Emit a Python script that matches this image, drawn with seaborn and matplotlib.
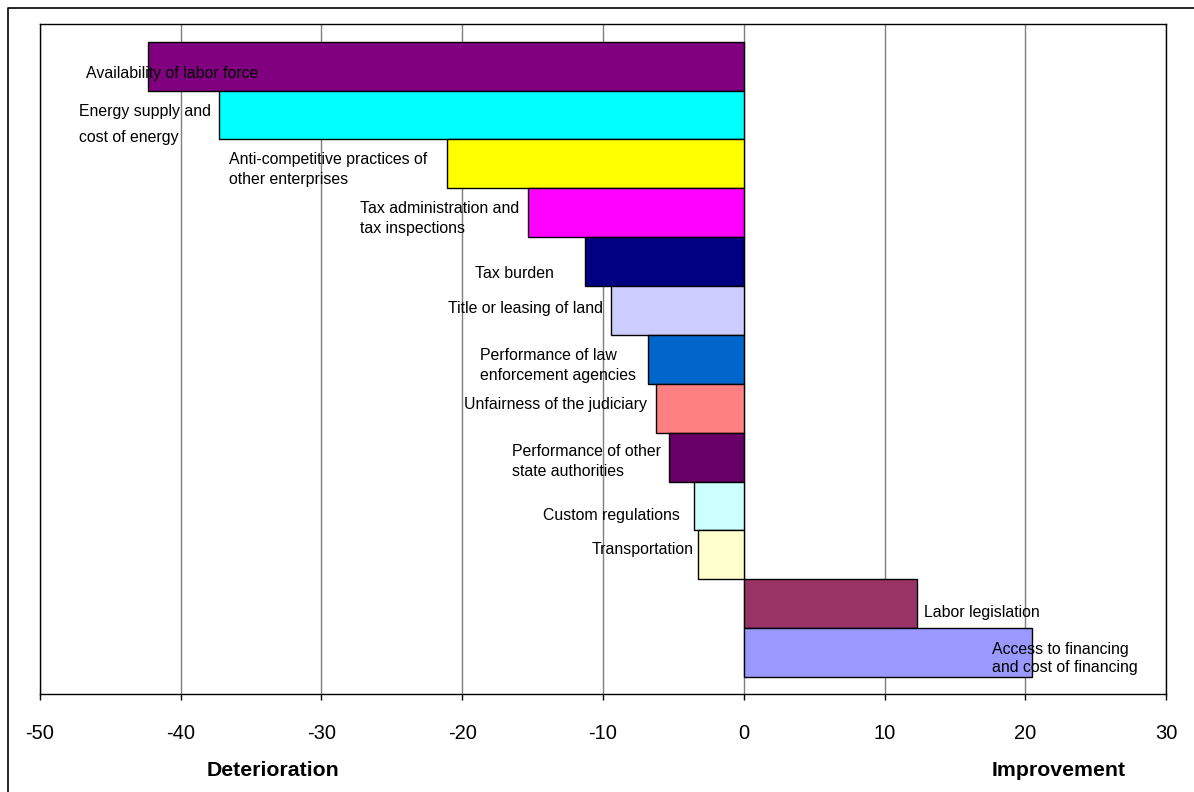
import matplotlib
matplotlib.use('Agg')
import matplotlib.pyplot as plt
import seaborn as sns
import pandas as pd
from matplotlib.lines import Line2D

# ---- data ----
categories = [
    "Availability of labor force",
    "Energy supply and cost of energy",
    "Anti-competitive practices of other enterprises",
    "Tax administration and tax inspections",
    "Tax burden",
    "Title or leasing of land",
    "Performance of law enforcement agencies",
    "Unfairness of the judiciary",
    "Performance of other state authorities",
    "Custom regulations",
    "Transportation",
    "Labor legislation",
    "Access to financing and cost of financing",
]
values = [-42.3, -37.3, -21.05, -15.3, -11.25, -9.4, -6.8, -6.25, -5.3, -3.55, -3.25, 12.3, 20.5]
label_texts = [
    "Availability of labor force",
    "Energy supply and\ncost of energy",
    "Anti-competitive practices of\nother enterprises",
    "Tax administration and\ntax inspections",
    "Tax burden",
    "Title or leasing of land",
    "Performance of law\nenforcement agencies",
    "Unfairness of the judiciary",
    "Performance of other\nstate authorities",
    "Custom regulations",
    "Transportation",
    "Labor legislation",
    "Access to financing\nand cost of financing",
]
xticks = [-50, -40, -30, -20, -10, 0, 10, 20, 30]
axis_left_title = "Deterioration"
axis_right_title = "Improvement"

# ---- styles / layout ----
colors = ["#800080", "#00FFFF", "#FFFF00", "#FF00FF", "#000080", "#CCCCFF",
          "#0066CC", "#FF8080", "#660066", "#CCFFFF", "#FFFFCC", "#993366", "#9999FF"]
# label anchor positions (data coords: x, category row)
label_pos = [(-46.7, 0.16), (-47.2, 1.19), (-36.57, 2.11), (-27.26, 3.12),
             (-19.09, 4.25), (-21.0, 4.97), (-18.74, 6.13), (-19.87, 6.93),
             (-16.46, 8.09), (-14.26, 9.20), (-10.78, 9.90), (12.81, 11.19),
             (17.62, 12.12)]
label_linespacing = [1.4, 1.95, 1.4, 1.4, 1.4, 1.4, 1.4, 1.4, 1.4, 1.4, 1.4, 1.4, 1.3]

sns.set_style("white")
plt.rcParams['font.family'] = ['Liberation Sans', 'DejaVu Sans']

W, H = 1194, 792
fig = plt.figure(figsize=(W / 100, H / 100), dpi=100)
ax = fig.add_axes([40 / W, 1 - 693.7 / H, 1126 / W, (693.7 - 23.7) / H])

df = pd.DataFrame({"category": categories, "value": values})
sns.barplot(data=df, x="value", y="category", hue="category", palette=colors,
            orient="h", width=1.0, edgecolor="black", linewidth=1.0,
            saturation=1, legend=False, ax=ax, zorder=3)

ax.set_xlim(-50, 30)
ax.set_ylim(12.842, -0.868)
ax.set_xticks(xticks)
ax.set_xticklabels([str(t) for t in xticks])
ax.set_yticks([])
ax.set_xlabel("")
ax.set_ylabel("")
ax.xaxis.grid(True, color="#7f7f7f", linewidth=1.0)
ax.set_axisbelow(True)
for s in ax.spines.values():
    s.set_color("black")
    s.set_linewidth(1.0)
ax.tick_params(axis="x", bottom=True, direction="out", length=4, width=1,
               color="black", labelsize=14.5, pad=18, labelcolor="black")

for txt, (x, y), ls in zip(label_texts, label_pos, label_linespacing):
    ax.text(x, y, txt, ha="left", va="center", fontsize=11.4, color="black",
            linespacing=ls, zorder=5)

fig.text(273 / W, 1 - 770 / H, axis_left_title, ha="center", va="center",
         fontsize=15.3, fontweight="bold", color="black")
fig.text(1059 / W, 1 - 770 / H, axis_right_title, ha="center", va="center",
         fontsize=15.3, fontweight="bold", color="black")

fig.add_artist(Line2D([7.5 / W, 7.5 / W, 1.0], [0.0, 1 - 8 / H, 1 - 8 / H],
                      transform=fig.transFigure, color="black", linewidth=1.2))

fig.savefig("out.png", dpi=100)
